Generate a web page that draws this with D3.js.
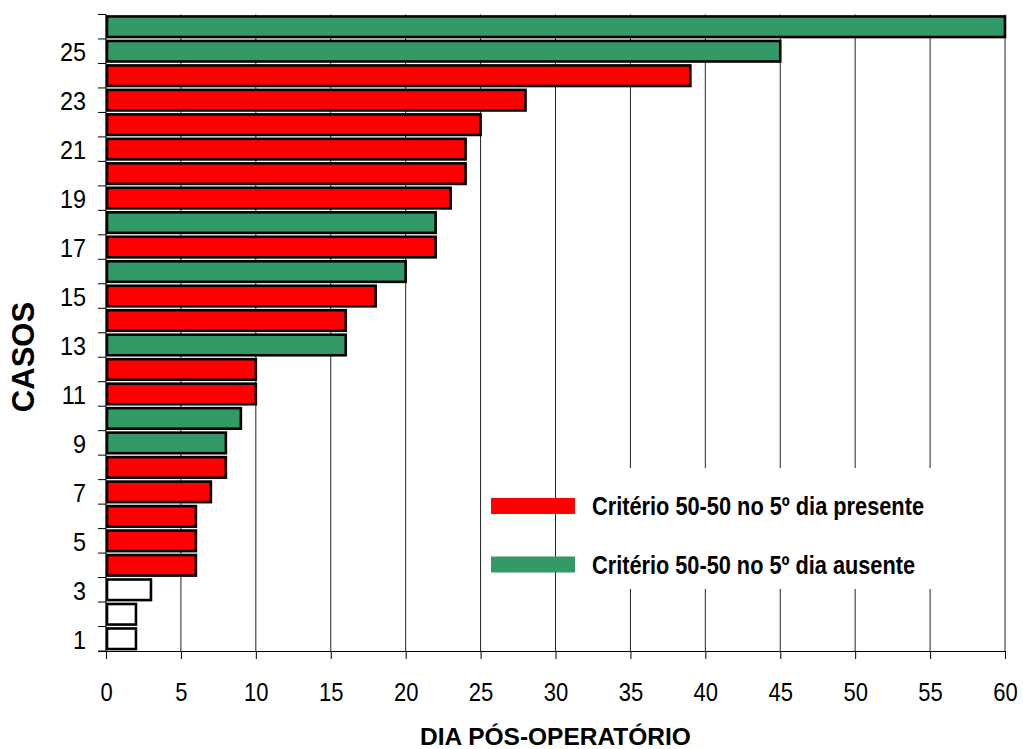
<!DOCTYPE html>
<html><head><meta charset="utf-8">
<script src="https://cdn.jsdelivr.net/npm/d3@7"></script>
<style>body{margin:0;background:#fff}svg{display:block}</style>
</head><body>
<script>
const cases = d3.range(1, 27);
const days = [2,2,3,6,6,6,7,8,8,9,10,10,16,16,18,20,22,22,23,24,24,25,28,39,45,60];
const groups = ["none","none","none","p","p","p","p","p","a","a","p","p","a","p","p","a","p","a","p","p","p","p","p","p","a","a"];
const xTicks = d3.range(0, 61, 5);
const yLabels = [1,3,5,7,9,11,13,15,17,19,21,23,25];
const legendLabels = ["Critério 50-50 no 5º dia presente","Critério 50-50 no 5º dia ausente"];
const legendKeys = ["p","a"];
const colors = {none:"#ffffff", p:"#ff0000", a:"#339966"};

(function(){
const W = 1023, H = 749;
const pL = 106, pR = 1005, pT = 14.5, pB = 651;
const FF = "Liberation Sans, Arial, Helvetica, sans-serif";
const svg = d3.select("body").append("svg").attr("width", W).attr("height", H);
const x = d3.scaleLinear().domain([0,60]).range([pL,pR]);
const y = d3.scaleBand().domain(cases).range([pB, pT]).paddingInner(0.16).paddingOuter(0.08);
const yb = d3.scaleBand().domain(cases).range([pB, pT]);

function squeeze(sel, f){
  sel.each(function(){
    const n = this.getComputedTextLength();
    d3.select(this).attr("textLength", n*f).attr("lengthAdjust","spacingAndGlyphs");
  });
}
function fit(sel, w){
  sel.attr("textLength", w).attr("lengthAdjust","spacingAndGlyphs");
}

// gridlines
svg.append("g").selectAll("line").data(xTicks.filter(d=>d>0)).join("line")
  .attr("x1", d=>x(d)).attr("x2", d=>x(d)).attr("y1", pT).attr("y2", pB)
  .attr("stroke", "#222").attr("stroke-width", 1);

// legend background
svg.append("rect").attr("x", 580).attr("y", 468).attr("width", 385).attr("height", 121).attr("fill", "#fff");

// bars
const data = cases.map((c,i)=>({c, v:days[i], g:groups[i]}));
svg.append("g").selectAll("rect").data(data).join("rect")
  .attr("x", x(0)+1).attr("y", d=>y(d.c)).attr("width", d=>x(d.v)-x(0)-1).attr("height", y.bandwidth())
  .attr("fill", d=>colors[d.g]).attr("stroke", "#000").attr("stroke-width", 2.6);

// x axis
const xa = svg.append("g").attr("transform", `translate(0,${pB})`)
  .call(d3.axisBottom(x).tickValues(xTicks).tickSize(8).tickPadding(24));
xa.select(".domain").attr("stroke","#000").attr("d", `M${pL-8},0.5H${pR}`);
xa.selectAll("line").attr("stroke","#000");
const xt = xa.selectAll("text").attr("font-family",FF).attr("font-size", 25).attr("fill","#000");
squeeze(xt, 0.88);

// y axis line and ticks at band boundaries
svg.append("line").attr("x1", pL).attr("x2", pL).attr("y1", pT).attr("y2", pB).attr("stroke","#000");
const bounds = cases.map(c=>yb(c)).concat([pB]);
svg.append("g").selectAll("line").data(bounds).join("line")
  .attr("x1", pL-8).attr("x2", pL).attr("y1", d=>d).attr("y2", d=>d).attr("stroke","#000");
const yt = svg.append("g").selectAll("text").data(yLabels).join("text")
  .attr("x", 86).attr("y", d=>yb(d)+yb.bandwidth()/2).attr("dy","0.38em")
  .attr("text-anchor","end").attr("font-family",FF).attr("font-size", 26)
  .text(d=>d);
squeeze(yt, 0.9);

// axis titles
svg.append("text").attr("transform", `translate(34,357) rotate(-90)`)
  .attr("text-anchor","middle").attr("font-family",FF)
  .attr("font-weight","bold").attr("font-size", 31).text("CASOS");
svg.append("text").attr("x", 555.5).attr("y", 745)
  .attr("text-anchor","middle").attr("font-family",FF)
  .attr("font-weight","bold").attr("font-size", 24.5).text("DIA PÓS-OPERATÓRIO");

// legend
const lg = svg.append("g");
const lw = [332, 323];
legendKeys.forEach((k,i)=>{
  const yy = 506 + i*58.5;
  lg.append("rect").attr("x", 491).attr("y", yy-8).attr("width", 84).attr("height", 16).attr("fill", colors[k]);
  const t = lg.append("text").attr("x", 592).attr("y", yy).attr("dy","0.36em")
    .attr("font-family",FF)
    .attr("font-weight","bold").attr("font-size", 25.5).text(legendLabels[i]);
  fit(t, lw[i]);
});
})();
</script>
</body></html>
